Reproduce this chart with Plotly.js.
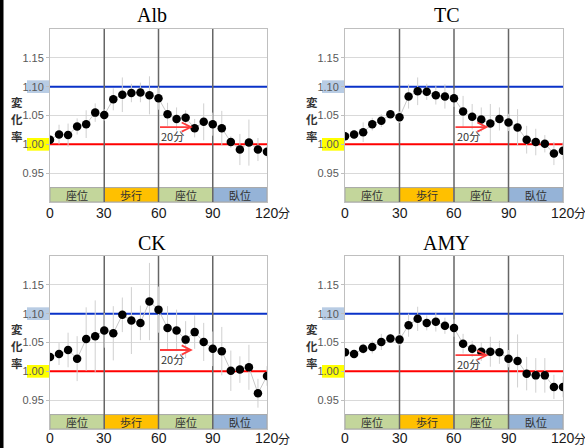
<!DOCTYPE html>
<html>
<head>
<meta charset="utf-8">
<script src="https://cdn.plot.ly/plotly-3.0.1.min.js"></script>
<style>html,body{margin:0;padding:0;background:#fff;}#chart{width:585px;height:448px;}</style>
</head>
<body>
<div id="chart"></div>
<script>
// ---- data ----
const times = [0,5,10,15,20,25,30,35,40,45,50,55,60,65,70,75,80,85,90,95,100,105,110,115,120];
const panelNames = ["Alb","TC","CK","AMY"];
const alb    = [1.008,1.017,1.016,1.031,1.035,1.055,1.051,1.078,1.086,1.089,1.090,1.085,1.080,1.052,1.044,1.046,1.028,1.039,1.035,1.028,1.004,0.991,1.003,0.991,0.987];
const albErr = [0.007,0.017,0.020,0.014,0.024,0.016,0.010,0.019,0.030,0.016,0.017,0.033,0.020,0.020,0.020,0.013,0.016,0.032,0.020,0.030,0.010,0.027,0.040,0.020,0.010];
const tc     = [1.014,1.017,1.021,1.035,1.041,1.052,1.047,1.083,1.092,1.091,1.085,1.083,1.080,1.057,1.048,1.043,1.036,1.044,1.038,1.029,1.008,1.004,1.001,0.984,0.989];
const tcErr  = [0.005,0.008,0.017,0.011,0.011,0.006,0.010,0.021,0.024,0.014,0.016,0.021,0.015,0.027,0.022,0.021,0.034,0.020,0.015,0.032,0.024,0.023,0.015,0.020,0.015];
const ck     = [1.025,1.030,1.037,1.022,1.056,1.061,1.071,1.066,1.098,1.088,1.084,1.121,1.107,1.075,1.071,1.055,1.068,1.051,1.039,1.035,1.001,1.003,1.007,0.962,0.992];
const ckErr  = [0.005,0.019,0.030,0.039,0.055,0.062,0.030,0.047,0.030,0.058,0.030,0.067,0.040,0.038,0.036,0.032,0.029,0.033,0.030,0.042,0.035,0.023,0.039,0.025,0.017];
const amy    = [1.033,1.030,1.039,1.042,1.051,1.057,1.055,1.080,1.091,1.084,1.086,1.079,1.075,1.048,1.039,1.034,1.034,1.033,1.022,1.018,0.996,0.993,0.993,0.973,0.973];
const amyErr = [0.005,0.005,0.009,0.011,0.014,0.008,0.010,0.020,0.021,0.013,0.017,0.014,0.015,0.017,0.014,0.016,0.026,0.020,0.015,0.046,0.029,0.030,0.030,0.021,0.018];

const phaseLabels = ["座位","歩行","座位","臥位"];
const phaseStart  = [0,30,60,90];
const phaseEnd    = [30,60,90,120];
const phaseColors = ["#c3d69b","#ffc000","#c3d69b","#95b3d7"];

const yTickVals = [0.95,1.00,1.05,1.10,1.15];
const yTickText = ["0.95","1.00","1.05","1.10","1.15"];
const yTitleChars = ["変","化","率"];
const xTickVals = [0,30,60,90,120];
const xTickText = ["0","30","60","90","120"];
const xUnit = "分";

const refHigh = 1.10, refBase = 1.00;
const arrowFrom = 60, arrowTo = 79, arrowLabelX = 68;
const arrowY = [1.030,1.030,1.037,1.028];
const arrowLabelY = [1.014,1.014,1.022,1.012];

// ---- layout helpers ----
const W = 585, H = 448;
const series = [alb, tc, ck, amy];
const errs = [albErr, tcErr, ckErr, amyErr];
const colX = [[50,267],[345,563]];
const rowY = [[29,202],[256,429]];
const px = v => v / W;
const py = v => 1 - v / H;

const traces = [];
const shapes = [];
const annotations = [];
const layout = {
  width: W, height: H,
  margin: {l:0, r:0, t:0, b:0},
  paper_bgcolor: "#ffffff",
  plot_bgcolor: "#ffffff",
  showlegend: false,
  font: {family: "Liberation Sans, Arial, sans-serif", color: "#333"}
};

// black frame edge at left
shapes.push({type:"rect", xref:"paper", yref:"paper", x0:0, x1:px(3.5), y0:0, y1:1,
  fillcolor:"#000", line:{width:0}, layer:"above"});

for (let i = 0; i < 4; i++) {
  const c = i % 2, r = Math.floor(i / 2);
  const xa = i === 0 ? "x" : "x" + (i + 1);
  const ya = i === 0 ? "y" : "y" + (i + 1);
  const xk = i === 0 ? "xaxis" : "xaxis" + (i + 1);
  const yk = i === 0 ? "yaxis" : "yaxis" + (i + 1);

  layout[xk] = {
    domain: [px(colX[c][0]), px(colX[c][1])],
    anchor: ya, range: [0, 120],
    tickvals: xTickVals, ticktext: xTickText, showticklabels: false,
    showgrid: false, zeroline: false, ticks: "",
    showline: true, mirror: true, linecolor: "#bfbfbf", linewidth: 1,
    fixedrange: true
  };
  layout[yk] = {
    domain: [py(rowY[r][1]), py(rowY[r][0])],
    anchor: xa, range: [0.90, 1.20],
    tickvals: yTickVals, ticktext: yTickText,
    showgrid: true, gridcolor: "#d9d9d9", gridwidth: 1, zeroline: false,
    ticks: "outside", ticklen: 3, tickcolor: "#bfbfbf",
    showline: true, mirror: true, linecolor: "#bfbfbf", linewidth: 1,
    tickfont: {size: 11, color: "#595959", family: "Liberation Sans, Arial, sans-serif"},
    fixedrange: true
  };

  traces.push({
    type: "scatter", mode: "lines+markers", xaxis: xa, yaxis: ya,
    x: times, y: series[i],
    line: {color: "#c8c8c8", width: 1},
    marker: {color: "#000", size: 8.5},
    error_y: {type: "data", array: errs[i], visible: true, color: "#d0d0d0", thickness: 1, width: 0}
  });

  // activity band
  for (let k = 0; k < 4; k++) {
    shapes.push({type:"rect", xref:xa, yref:ya, x0:phaseStart[k], x1:phaseEnd[k], y0:0.90, y1:0.925,
      fillcolor: phaseColors[k], line:{color:"#a6a6a6", width:1}, layer:"between"});
    annotations.push({xref:xa, yref:ya, x:(phaseStart[k]+phaseEnd[k])/2, y:0.9125, text:phaseLabels[k],
      showarrow:false, font:{size:11, color:"#333", family:"Noto Sans CJK JP"}});
  }
  // reference lines
  shapes.push({type:"line", xref:xa, yref:ya, x0:0, x1:120, y0:refHigh, y1:refHigh,
    line:{color:"#0a32c8", width:2}, layer:"between"});
  shapes.push({type:"line", xref:xa, yref:ya, x0:0, x1:120, y0:refBase, y1:refBase,
    line:{color:"#ff0000", width:2}, layer:"between"});
  // phase separators
  [30,60,90].forEach(v => shapes.push({type:"line", xref:xa, yref:ya, x0:v, x1:v, y0:0.90, y1:1.20,
    line:{color:"#666", width:1.5}, layer:"between"}));

  // highlight boxes behind tick labels
  const bx0 = c === 0 ? 27 : 322, bx1 = c === 0 ? 49 : 344;
  shapes.push({type:"rect", xref:"paper", yref:ya, x0:px(bx0), x1:px(bx1), y0:refHigh-0.011, y1:refHigh+0.011,
    fillcolor:"#b8cce4", line:{width:0}, layer:"below"});
  shapes.push({type:"rect", xref:"paper", yref:ya, x0:px(bx0), x1:px(bx1), y0:refBase-0.011, y1:refBase+0.011,
    fillcolor:"#ffff00", line:{width:0}, layer:"below"});

  // x tick labels (placed under the band)
  const labY = r === 0 ? 212.5 : 438;
  xTickVals.forEach((v, k) => annotations.push({xref:xa, yref:"paper", x:v, y:py(labY),
    xanchor:"center", yanchor:"middle", text:xTickText[k], showarrow:false,
    font:{size:14, color:"#1a1a1a", family:"Liberation Sans, Arial, sans-serif"}}));
  const unitX = colX[c][1] + 9;
  annotations.push({xref:"paper", yref:"paper", x:px(unitX), y:py(labY), xanchor:"left", yanchor:"middle",
    text:xUnit, showarrow:false, font:{size:12, color:"#1a1a1a", family:"Noto Sans CJK JP"}});

  // 20-minute arrow
  annotations.push({xref:xa, yref:ya, axref:xa, ayref:ya, x:arrowTo, y:arrowY[i], ax:arrowFrom, ay:arrowY[i],
    text:"", showarrow:true, arrowhead:5, arrowsize:1, arrowwidth:1.8, arrowcolor:"#ff3b3b", standoff:0, startstandoff:0});
  annotations.push({xref:xa, yref:ya, x:arrowLabelX, y:arrowLabelY[i], text:"20分", showarrow:false,
    font:{size:11, color:"#333", family:"Noto Sans CJK JP"}});

  // panel title
  const titleX = c === 0 ? 152 : 447;
  const titleY = r === 0 ? 15 : 243;
  annotations.push({xref:"paper", yref:"paper", x:px(titleX), y:py(titleY), xanchor:"center", yanchor:"middle",
    text: panelNames[i], showarrow:false, font:{size:20, color:"#000", family:"Liberation Serif, Times New Roman, serif"}});

  // y axis title (vertical stacked characters)
  const ytX = c === 0 ? 16.5 : 311.5;
  const ytY = r === 0 ? 119 : 346;
  yTitleChars.forEach((ch, k) => annotations.push({xref:"paper", yref:"paper",
    x:px(ytX), y:py(ytY + (k - 1) * 17), xanchor:"center", yanchor:"middle",
    text:"<b>" + ch + "</b>", showarrow:false,
    font:{size:11.5, color:"#333", family:"Noto Sans CJK JP"}}));
}

layout.shapes = shapes;
layout.annotations = annotations;

Plotly.newPlot("chart", traces, layout, {displayModeBar:false, staticPlot:true});
</script>
</body>
</html>
